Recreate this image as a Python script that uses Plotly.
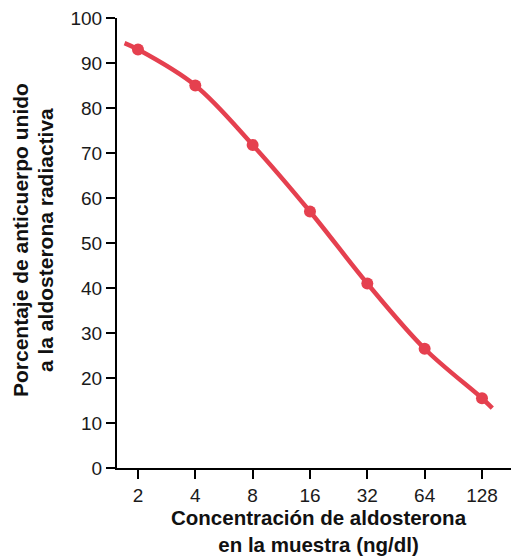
import math
import plotly.graph_objects as go

# Measured points
conc = [2, 4, 8, 16, 32, 64, 128]
pct = [93, 85, 71.8, 57, 41, 26.5, 15.5]

# Curve as drawn (extends slightly past the first/last points)
curve_x = [1.7, 2, 4, 8, 16, 32, 64, 128, 145]
curve_y = [94.4, 93, 85, 71.8, 57, 41, 26.5, 15.5, 13.3]

tick_vals = [2, 4, 8, 16, 32, 64, 128]
tick_text = ["2", "4", "8", "16", "32", "64", "128"]
y_ticks = [0, 10, 20, 30, 40, 50, 60, 70, 80, 90, 100]

x_title = ["Concentración de aldosterona", "en la muestra (ng/dl)"]
y_title = ["Porcentaje de anticuerpo unido", "a la aldosterona radiactiva"]

red = "#E5404F"
font_family = "Liberation Sans, Arial, sans-serif"
L, T, B = 117, 18, 90
W, H = 511, 558
pw, ph = W - L, H - T - B

fig = go.Figure()
fig.add_trace(go.Scatter(
    x=curve_x, y=curve_y, mode="lines",
    line=dict(color=red, width=4.5, shape="spline", smoothing=1.0),
    hoverinfo="skip", showlegend=False,
))
fig.add_trace(go.Scatter(
    x=conc, y=pct, mode="markers",
    marker=dict(color=red, size=12),
    showlegend=False,
))

def px_x(p):
    return (p - L) / pw

def px_y(p):
    return (H - B - p) / ph

ann = [dict(text="<b>%s</b>" % "<br>".join(x_title), x=px_x(319), y=px_y(531),
            xref="paper", yref="paper", xanchor="center", yanchor="middle",
            showarrow=False, font=dict(size=20.5, color="#111"))]
for txt, xp in zip(y_title, [21, 46]):
    ann.append(dict(text="<b>%s</b>" % txt, x=px_x(xp), y=px_y(240), xref="paper", yref="paper",
                    xanchor="center", yanchor="middle", showarrow=False, textangle=-90,
                    font=dict(size=21, color="#111")))

fig.update_layout(
    width=W, height=H,
    margin=dict(l=L, r=0, t=T, b=B),
    paper_bgcolor="white", plot_bgcolor="white",
    font=dict(family=font_family, size=19, color="#1a1a1a"),
    annotations=ann,
    xaxis=dict(
        type="log",
        range=[0.634 * math.log10(2), 7.506 * math.log10(2)],
        tickvals=tick_vals, ticktext=tick_text,
        showgrid=False, zeroline=False, automargin=False,
        showline=True, linecolor="black", linewidth=2,
        ticks="outside", ticklen=9, tickwidth=2, tickcolor="black",
        tickfont=dict(size=19),
    ),
    yaxis=dict(
        range=[0, 100],
        tickvals=y_ticks, automargin=False,
        showgrid=False, zeroline=False,
        showline=True, linecolor="black", linewidth=2,
        ticks="outside", ticklen=9, tickwidth=2, tickcolor="black",
        tickfont=dict(size=19),
    ),
)

fig.write_html(
    "out.html",
    config={"displayModeBar": False},
    post_script="document.body.style.margin='0';document.body.style.overflow='hidden';",
)
